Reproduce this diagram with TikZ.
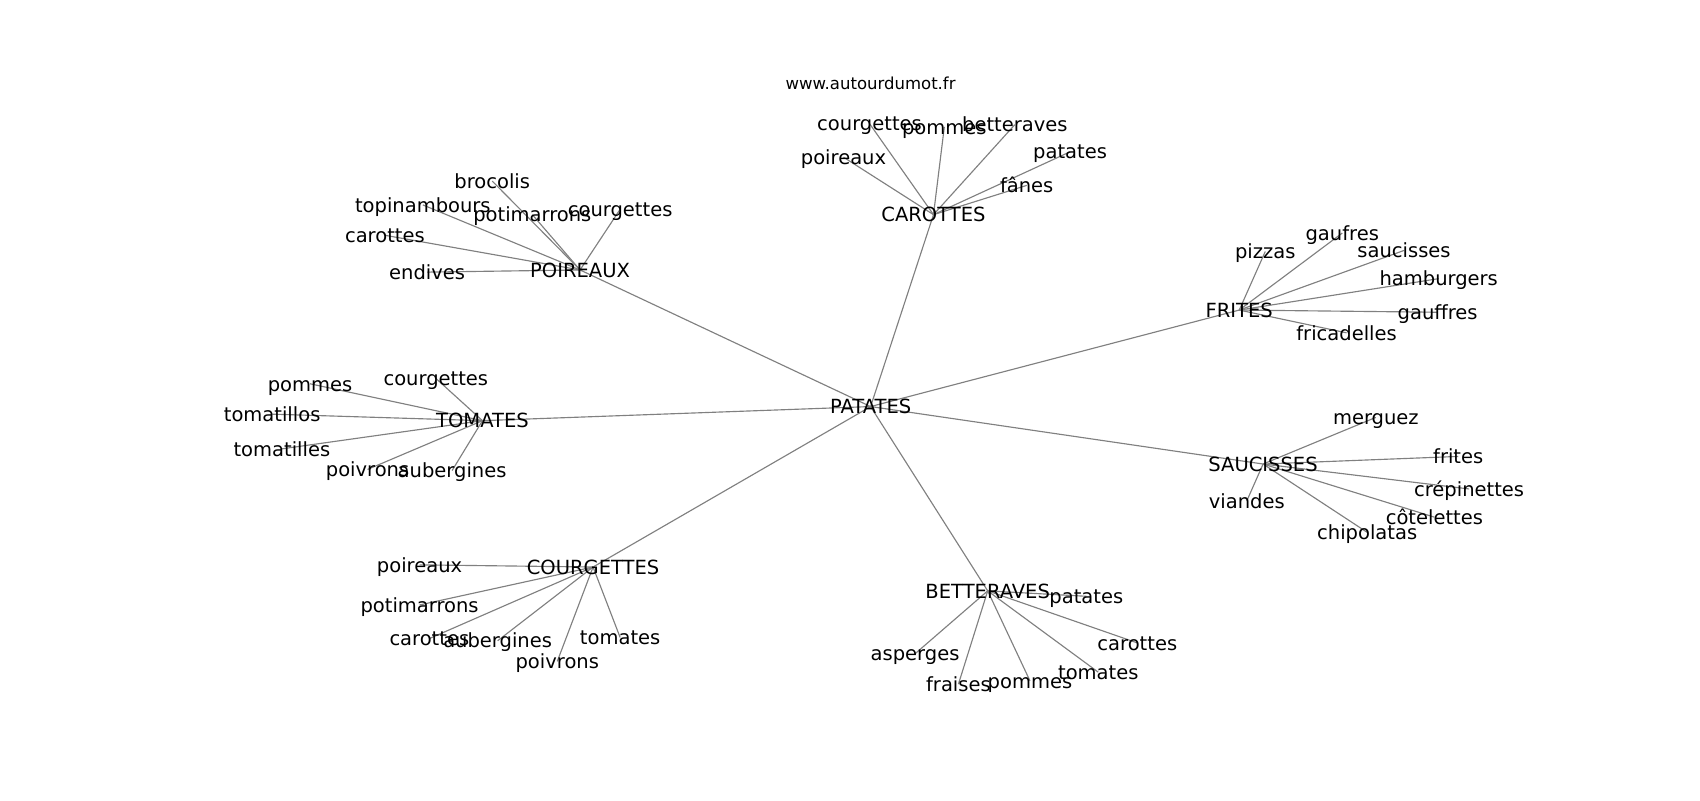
\documentclass[tikz,border=0pt]{standalone}
\usepackage{fontspec}
\setmainfont{DejaVu Sans}
\usetikzlibrary{backgrounds}
\tikzset{
	word/.style={inner sep=0pt, text height=1.5ex, text depth=0pt, font=\fontsize{11.1}{12}\selectfont},
	link/.style={line width=0.65pt, color=black!50}
}

\begin{document}
\begin{tikzpicture}[x=0.2168mm, y=-0.2168mm]
		%%%%% START %%%%%
		\useasboundingbox (0,0) rectangle (1568,738);
		
		\node[inner sep=0pt, text height=1.5ex, text depth=0pt, font=\fontsize{9.4}{11}\selectfont] (site) at (803,76) {www.autourdumot.fr};
		
		\node[word] (pat) at (803,375) {PATATES};
		
		\node[word] (car) at (861,198) {CAROTTES};
		\node[word] (car-cou) at (802,114) {courgettes};
		\node[word] (car-pom) at (871,117) {pommes};
		\node[word] (car-bet) at (936,115) {betteraves};
		\node[word] (car-pat) at (987,140) {patates};
		\node[word] (car-poi) at (778,145) {poireaux};
		\node[word] (car-fan) at (947,171) {fânes};
		
		\node[word] (poi) at (535,249) {POIREAUX};
		\node[word] (poi-bro) at (454,167) {brocolis};
		\node[word] (poi-top) at (390,189) {topinambours};
		\node[word] (poi-pot) at (491,198) {potimarrons};
		\node[word] (poi-cou) at (572,193) {courgettes};
		\node[word] (poi-car) at (355,217) {carottes};
		\node[word] (poi-end) at (394,251) {endives};
		
		\node[word] (fri) at (1143,286) {FRITES};
		\node[word] (fri-piz) at (1167,232) {pizzas};
		\node[word] (fri-gau) at (1238,215) {gaufres};
		\node[word] (fri-sau) at (1295,231) {saucisses};
		\node[word] (fri-ham) at (1327,257) {hamburgers};
		\node[word] (fri-gff) at (1326,288) {gauffres};
		\node[word] (fri-fri) at (1242,307) {fricadelles};
		
		\node[word] (sau) at (1165,428) {SAUCISSES};
		\node[word] (sau-mer) at (1269,385) {merguez};
		\node[word] (sau-fri) at (1345,421) {frites};
		\node[word] (sau-cre) at (1355,451) {crépinettes};
		\node[word] (sau-cot) at (1323,477) {côtelettes};
		\node[word] (sau-chi) at (1261,491) {chipolatas};
		\node[word] (sau-via) at (1150,462) {viandes};
		
		\node[word] (tom) at (445,388) {TOMATES};
		\node[word] (tom-cou) at (402,349) {courgettes};
		\node[word] (tom-pom) at (286,354) {pommes};
		\node[word] (tom-tos) at (251,382) {tomatillos};
		\node[word] (tom-tes) at (260,414) {tomatilles};
		\node[word] (tom-poi) at (339,433) {poivrons};
		\node[word] (tom-aub) at (417,434) {aubergines};
		
		\node[word] (cou) at (547,523) {COURGETTES};
		\node[word] (cou-poi) at (387,521) {poireaux};
		\node[word] (cou-pot) at (387,558) {potimarrons};
		\node[word] (cou-car) at (396,589) {carottes};
		\node[word] (cou-aub) at (459,591) {aubergines};
		\node[word] (cou-poi2) at (514,610) {poivrons};
		\node[word] (cou-tom) at (572,588) {tomates};
		
		\node[word] (bet) at (911,545) {BETTERAVES};
		\node[word] (bet-pat) at (1002,550) {patates};
		\node[word] (bet-car) at (1049,593) {carottes};
		\node[word] (bet-tom) at (1013,620) {tomates};
		\node[word] (bet-pom) at (950,628) {pommes};
		\node[word] (bet-fra) at (884,631) {fraises};
		\node[word] (bet-asp) at (844,603) {asperges};
		
		\begin{pgfonlayer}{background}
		\draw[link] (pat.center) -- (car.center);
		\draw[link] (pat.center) -- (poi.center);
		\draw[link] (pat.center) -- (fri.center);
		\draw[link] (pat.center) -- (sau.center);
		\draw[link] (pat.center) -- (tom.center);
		\draw[link] (pat.center) -- (cou.center);
		\draw[link] (pat.center) -- (bet.center);
		
		\draw[link] (car.center) -- (car-cou.center);
		\draw[link] (car.center) -- (car-pom.center);
		\draw[link] (car.center) -- (car-bet.center);
		\draw[link] (car.center) -- (car-pat.center);
		\draw[link] (car.center) -- (car-poi.center);
		\draw[link] (car.center) -- (car-fan.center);
		
		\draw[link] (poi.center) -- (poi-bro.center);
		\draw[link] (poi.center) -- (poi-top.center);
		\draw[link] (poi.center) -- (poi-pot.center);
		\draw[link] (poi.center) -- (poi-cou.center);
		\draw[link] (poi.center) -- (poi-car.center);
		\draw[link] (poi.center) -- (poi-end.center);
		
		\draw[link] (fri.center) -- (fri-piz.center);
		\draw[link] (fri.center) -- (fri-gau.center);
		\draw[link] (fri.center) -- (fri-sau.center);
		\draw[link] (fri.center) -- (fri-ham.center);
		\draw[link] (fri.center) -- (fri-gff.center);
		\draw[link] (fri.center) -- (fri-fri.center);
		
		\draw[link] (sau.center) -- (sau-mer.center);
		\draw[link] (sau.center) -- (sau-fri.center);
		\draw[link] (sau.center) -- (sau-cre.center);
		\draw[link] (sau.center) -- (sau-cot.center);
		\draw[link] (sau.center) -- (sau-chi.center);
		\draw[link] (sau.center) -- (sau-via.center);
		
		\draw[link] (tom.center) -- (tom-cou.center);
		\draw[link] (tom.center) -- (tom-pom.center);
		\draw[link] (tom.center) -- (tom-tos.center);
		\draw[link] (tom.center) -- (tom-tes.center);
		\draw[link] (tom.center) -- (tom-poi.center);
		\draw[link] (tom.center) -- (tom-aub.center);
		
		\draw[link] (cou.center) -- (cou-poi.center);
		\draw[link] (cou.center) -- (cou-pot.center);
		\draw[link] (cou.center) -- (cou-car.center);
		\draw[link] (cou.center) -- (cou-aub.center);
		\draw[link] (cou.center) -- (cou-poi2.center);
		\draw[link] (cou.center) -- (cou-tom.center);
		
		\draw[link] (bet.center) -- (bet-pat.center);
		\draw[link] (bet.center) -- (bet-car.center);
		\draw[link] (bet.center) -- (bet-tom.center);
		\draw[link] (bet.center) -- (bet-pom.center);
		\draw[link] (bet.center) -- (bet-fra.center);
		\draw[link] (bet.center) -- (bet-asp.center);
		\end{pgfonlayer}
		
		%%%%% END %%%%%
\end{tikzpicture}
\end{document}
